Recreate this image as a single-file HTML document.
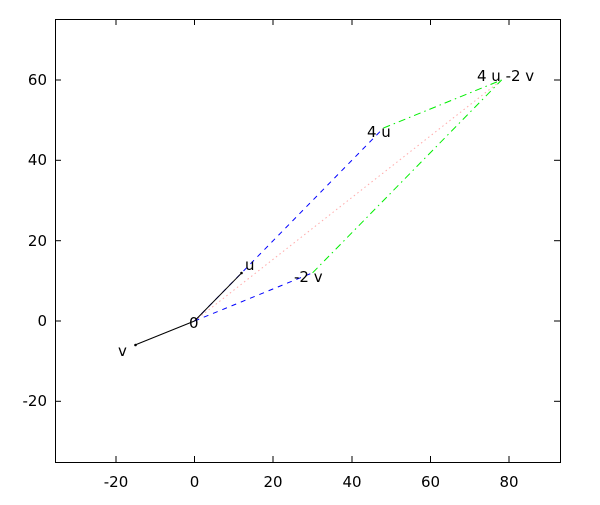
<!DOCTYPE html>
<html><head><style>body{margin:0;background:#fff}</style></head><body>
<svg width="600" height="500" xmlns="http://www.w3.org/2000/svg" font-family="DejaVu Sans, sans-serif" font-size="15">
<rect x="55.5" y="19.5" width="505" height="443" fill="none" stroke="#000" stroke-width="1"/>
<g stroke="#000">
<line x1="116" y1="462" x2="116" y2="456"/><line x1="116" y1="19" x2="116" y2="25"/>
<line x1="194.5" y1="462" x2="194.5" y2="456"/><line x1="194.5" y1="19" x2="194.5" y2="25"/>
<line x1="273" y1="462" x2="273" y2="456"/><line x1="273" y1="19" x2="273" y2="25"/>
<line x1="352" y1="462" x2="352" y2="456"/><line x1="352" y1="19" x2="352" y2="25"/>
<line x1="430.5" y1="462" x2="430.5" y2="456"/><line x1="430.5" y1="19" x2="430.5" y2="25"/>
<line x1="509" y1="462" x2="509" y2="456"/><line x1="509" y1="19" x2="509" y2="25"/>
<line x1="55" y1="80" x2="61" y2="80"/><line x1="560" y1="80" x2="554" y2="80"/>
<line x1="55" y1="160.3" x2="61" y2="160.3"/><line x1="560" y1="160.3" x2="554" y2="160.3"/>
<line x1="55" y1="240.7" x2="61" y2="240.7"/><line x1="560" y1="240.7" x2="554" y2="240.7"/>
<line x1="55" y1="321" x2="61" y2="321"/><line x1="560" y1="321" x2="554" y2="321"/>
<line x1="55" y1="401.3" x2="61" y2="401.3"/><line x1="560" y1="401.3" x2="554" y2="401.3"/>
</g>
<g text-anchor="middle">
<text x="116" y="487">-20</text><text x="194.5" y="487">0</text><text x="273" y="487">20</text>
<text x="352" y="487">40</text><text x="430.5" y="487">60</text><text x="509" y="487">80</text>
</g>
<g text-anchor="end">
<text x="47" y="85">60</text><text x="47" y="165">40</text><text x="47" y="246">20</text>
<text x="47" y="326">0</text><text x="47" y="406">-20</text>
</g>
<line x1="194.5" y1="321" x2="501.6" y2="80" stroke="#ffaaaa" stroke-width="1" stroke-dasharray="1.5,3"/>
<g stroke="#0000ff" stroke-dasharray="5,5">
<line x1="194.5" y1="321" x2="383.5" y2="128"/>
<line x1="194.5" y1="321" x2="312.6" y2="272.8"/>
</g>
<g stroke="#00ee00" stroke-dasharray="7,4,1.5,4">
<line x1="383.5" y1="128" x2="501.6" y2="80"/>
<line x1="312.6" y1="272.8" x2="501.6" y2="80"/>
</g>
<g stroke="#000">
<line x1="194.5" y1="321" x2="241.8" y2="272.8"/>
<line x1="194.5" y1="321" x2="135" y2="345"/>
</g>
<g fill="#000">
<circle cx="241.5" cy="273" r="1.3"/><circle cx="135.5" cy="345" r="1.3"/>
</g>
<g>
<text x="189" y="328">0</text>
<text x="245" y="270">u</text>
<text x="118" y="356">v</text>
<text x="367" y="137">4 u</text>
<text x="294" y="282">-2 v</text>
<text x="477" y="81">4 u -2 v</text>
</g>
</svg>
</body></html>
